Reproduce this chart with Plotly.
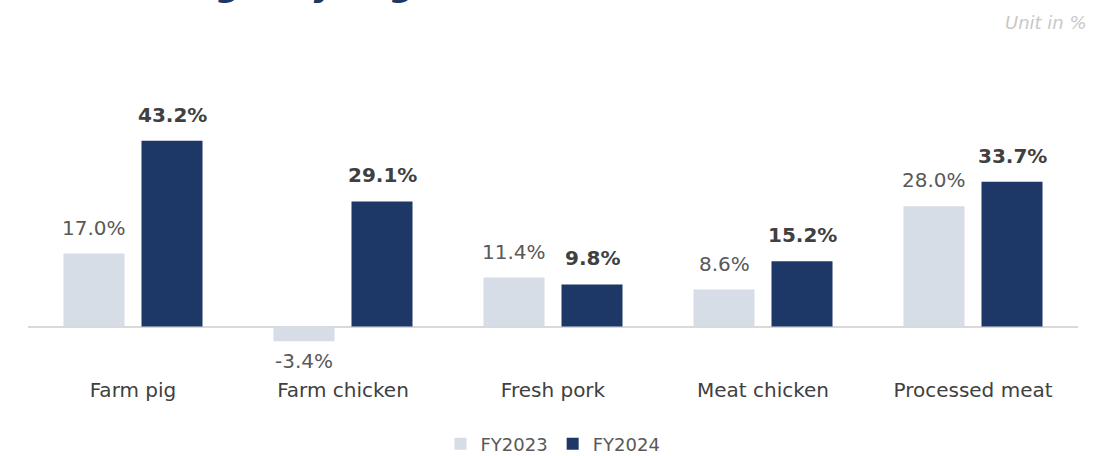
import plotly.graph_objects as go

categories = ["Farm pig", "Farm chicken", "Fresh pork", "Meat chicken", "Processed meat"]
fy2023 = [17.0, -3.4, 11.4, 8.6, 28.0]
fy2024 = [43.2, 29.1, 9.8, 15.2, 33.7]
series_names = ["FY2023", "FY2024"]
title_text = "Gross margin by segment"
unit_text = "Unit in %"

FONT = "DejaVu Sans"
C23 = "#d6dde6"
C24 = "#1d3867"

fig = go.Figure()
fig.add_trace(go.Bar(x=categories, y=fy2023, name=series_names[0], marker_color=C23,
                     marker_line_width=0))
fig.add_trace(go.Bar(x=categories, y=fy2024, name=series_names[1], marker_color=C24,
                     marker_line_width=0))

annotations = []
# value labels above (or below) each bar
for i, cat in enumerate(categories):
    for k, (vals, style) in enumerate([(fy2023, dict(color="#595959", weight="normal")),
                                       (fy2024, dict(color="#404040", weight="bold"))]):
        v = vals[i]
        annotations.append(dict(
            x=cat, y=v, xref="x", yref="y", text=f"{v:.1f}%", showarrow=False,
            xshift=-39 if k == 0 else 39,
            yanchor="bottom" if v >= 0 else "top",
            yshift=12 if v >= 0 else -6,
            font=dict(family=FONT, size=20, color=style["color"], weight=style["weight"]),
        ))

annotations.append(dict(x=1.01, y=1.126, xref="paper", yref="paper", xanchor="right", yanchor="middle",
                        text=unit_text, showarrow=False,
                        font=dict(family=FONT, size=18, color="#c8c8c8", style="italic"),
                        ))
annotations.append(dict(x=-0.008, y=1.18, xref="paper", yref="paper", xanchor="left", yanchor="bottom",
                        text=title_text, showarrow=False,
                        font=dict(family=FONT, size=34, color="#1d3867", weight="bold", style="italic"),
                        ))

fig.update_layout(
    width=1115, height=456,
    margin=dict(l=28, r=37, t=60, b=95, autoexpand=False),
    paper_bgcolor="white", plot_bgcolor="white",
    barmode="group", bargap=0.257, bargroupgap=0.218,
    showlegend=True,
    legend=dict(orientation="h", x=0.5, xanchor="center", y=-0.276, yanchor="middle",
                font=dict(family=FONT, size=18, color="#595959"), itemwidth=30),
    xaxis=dict(showgrid=False, showline=False, ticks="",
               tickfont=dict(family=FONT, size=20, color="#404040"), ticklabelstandoff=15),
    yaxis=dict(range=[-8, 62], showgrid=False, showticklabels=False, zeroline=True,
               zerolinecolor="#d9d9d9", zerolinewidth=2),
    annotations=annotations,
    font=dict(family=FONT),
)

fig.write_html("out.html")
